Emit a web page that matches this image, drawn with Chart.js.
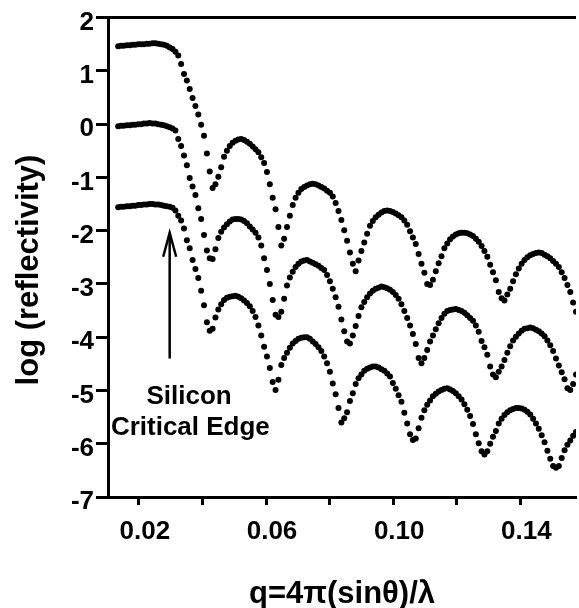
<!DOCTYPE html>
<html>
<head>
<meta charset="utf-8">
<script src="https://cdn.jsdelivr.net/npm/chart.js@4.4.1/dist/chart.umd.min.js"></script>
<style>
  html, body { margin: 0; padding: 0; background: #fff; }
  #wrap { width: 579px; height: 608px; }
</style>
</head>
<body>
<div id="wrap"><canvas id="refl"></canvas></div>
<script>
// q values (1/A) shared by the three curves
const q = [
  0.0135, 0.0144, 0.0153, 0.0162, 0.0171, 0.0180, 0.0189, 0.0198, 0.0207, 0.0216,
  0.0225, 0.0234, 0.0243, 0.0252, 0.0261, 0.0270, 0.0279, 0.0288, 0.0297, 0.0306,
  0.0315, 0.0324, 0.0333, 0.0342, 0.0351, 0.0360, 0.0369, 0.0378, 0.0387, 0.0396,
  0.0405, 0.0414, 0.0423, 0.0432, 0.0441, 0.0450, 0.0459, 0.0468, 0.0477, 0.0486,
  0.0495, 0.0504, 0.0513, 0.0522, 0.0531, 0.0540, 0.0549, 0.0558, 0.0567, 0.0576,
  0.0585, 0.0594, 0.0603, 0.0612, 0.0621, 0.0630, 0.0639, 0.0648, 0.0657, 0.0666,
  0.0675, 0.0684, 0.0693, 0.0702, 0.0711, 0.0720, 0.0729, 0.0738, 0.0747, 0.0756,
  0.0765, 0.0774, 0.0783, 0.0792, 0.0801, 0.0810, 0.0819, 0.0828, 0.0837, 0.0846,
  0.0855, 0.0864, 0.0873, 0.0882, 0.0891, 0.0900, 0.0909, 0.0918, 0.0927, 0.0936,
  0.0945, 0.0954, 0.0963, 0.0972, 0.0981, 0.0990, 0.0999, 0.1008, 0.1017, 0.1026,
  0.1035, 0.1044, 0.1053, 0.1062, 0.1071, 0.1080, 0.1089, 0.1098, 0.1107, 0.1116,
  0.1125, 0.1134, 0.1143, 0.1152, 0.1161, 0.1170, 0.1179, 0.1188, 0.1197, 0.1206,
  0.1215, 0.1224, 0.1233, 0.1242, 0.1251, 0.1260, 0.1269, 0.1278, 0.1287, 0.1296,
  0.1305, 0.1314, 0.1323, 0.1332, 0.1341, 0.1350, 0.1359, 0.1368, 0.1377, 0.1386,
  0.1395, 0.1404, 0.1413, 0.1422, 0.1431, 0.1440, 0.1449, 0.1458, 0.1467, 0.1476,
  0.1485, 0.1494, 0.1503, 0.1512, 0.1521, 0.1530, 0.1539, 0.1548, 0.1557, 0.1566,
  0.1575
];

// log reflectivity, top curve (offset +1.5)
const topCurve = [
  1.46, 1.47, 1.47, 1.48, 1.48, 1.49, 1.49, 1.50, 1.50, 1.50,
  1.51, 1.51, 1.52, 1.52, 1.51, 1.50, 1.49, 1.47, 1.44, 1.41,
  1.36, 1.29, 1.13, 0.94, 0.82, 0.66, 0.49, 0.34, 0.18, -0.01,
  -0.22, -0.55, -0.89, -1.20, -1.13, -0.99, -0.81, -0.61, -0.50, -0.41,
  -0.35, -0.31, -0.29, -0.28, -0.30, -0.33, -0.37, -0.42, -0.47, -0.53,
  -0.62, -0.73, -0.90, -1.13, -1.38, -1.60, -1.93, -2.28, -2.15, -1.93,
  -1.72, -1.52, -1.38, -1.29, -1.22, -1.18, -1.15, -1.13, -1.12, -1.13,
  -1.15, -1.18, -1.21, -1.25, -1.29, -1.36, -1.48, -1.63, -1.80, -1.99,
  -2.19, -2.41, -2.62, -2.76, -2.56, -2.38, -2.22, -2.06, -1.91, -1.82,
  -1.75, -1.70, -1.66, -1.63, -1.62, -1.63, -1.65, -1.68, -1.71, -1.75,
  -1.81, -1.89, -2.01, -2.13, -2.25, -2.44, -2.62, -2.79, -3.00, -3.02,
  -2.92, -2.76, -2.61, -2.48, -2.33, -2.24, -2.16, -2.11, -2.07, -2.05,
  -2.04, -2.04, -2.05, -2.07, -2.10, -2.15, -2.21, -2.29, -2.38, -2.49,
  -2.64, -2.78, -2.93, -3.15, -3.27, -3.31, -3.20, -3.09, -2.95, -2.82,
  -2.71, -2.62, -2.55, -2.50, -2.46, -2.44, -2.42, -2.41, -2.42, -2.45,
  -2.48, -2.52, -2.57, -2.62, -2.68, -2.78, -2.89, -3.02, -3.15, -3.35,
  -3.52
];

// middle curve
const midCurve = [
  -0.04, -0.03, -0.03, -0.02, -0.02, -0.01, -0.01, 0.00, 0.00, 0.01,
  0.01, 0.02, 0.01, 0.01, 0.00, -0.01, -0.02, -0.04, -0.06, -0.08,
  -0.12, -0.28, -0.41, -0.59, -0.77, -1.01, -1.17, -1.33, -1.58, -1.78,
  -2.08, -2.37, -2.52, -2.53, -2.35, -2.14, -2.02, -1.94, -1.88, -1.83,
  -1.79, -1.78, -1.78, -1.79, -1.82, -1.86, -1.92, -1.98, -2.04, -2.13,
  -2.28, -2.52, -2.74, -3.00, -3.30, -3.58, -3.62, -3.52, -3.28, -3.03,
  -2.88, -2.77, -2.68, -2.62, -2.58, -2.56, -2.55, -2.58, -2.60, -2.63,
  -2.66, -2.70, -2.74, -2.83, -2.95, -3.09, -3.25, -3.43, -3.67, -3.89,
  -4.08, -4.12, -3.97, -3.79, -3.60, -3.44, -3.34, -3.25, -3.18, -3.13,
  -3.09, -3.07, -3.05, -3.06, -3.08, -3.11, -3.15, -3.21, -3.28, -3.38,
  -3.51, -3.64, -3.78, -3.94, -4.13, -4.39, -4.49, -4.39, -4.24, -4.08,
  -3.97, -3.85, -3.74, -3.64, -3.56, -3.51, -3.49, -3.48, -3.47, -3.49,
  -3.51, -3.54, -3.59, -3.64, -3.69, -3.78, -3.90, -4.07, -4.19, -4.33,
  -4.55, -4.70, -4.75, -4.65, -4.55, -4.43, -4.29, -4.17, -4.06, -3.99,
  -3.93, -3.88, -3.84, -3.83, -3.82, -3.83, -3.86, -3.89, -3.93, -3.98,
  -4.06, -4.15, -4.26, -4.40, -4.53, -4.66, -4.79, -4.96, -4.99, -4.88,
  -4.70
];

// bottom curve (offset -1.5)
const lowCurve = [
  -1.56, -1.55, -1.55, -1.54, -1.54, -1.53, -1.53, -1.52, -1.52, -1.51,
  -1.51, -1.50, -1.50, -1.51, -1.51, -1.52, -1.53, -1.54, -1.55, -1.57,
  -1.62, -1.72, -1.81, -1.96, -2.18, -2.33, -2.55, -2.72, -2.89, -3.13,
  -3.40, -3.72, -3.88, -3.84, -3.63, -3.48, -3.38, -3.30, -3.26, -3.24,
  -3.23, -3.22, -3.24, -3.27, -3.31, -3.36, -3.42, -3.51, -3.62, -3.78,
  -3.97, -4.18, -4.36, -4.58, -4.84, -4.99, -4.80, -4.52, -4.39, -4.29,
  -4.20, -4.12, -4.07, -4.03, -4.01, -4.00, -4.00, -4.03, -4.08, -4.13,
  -4.19, -4.26, -4.36, -4.49, -4.65, -4.87, -5.07, -5.33, -5.60, -5.52,
  -5.41, -5.20, -5.05, -4.88, -4.77, -4.70, -4.63, -4.59, -4.57, -4.55,
  -4.55, -4.57, -4.60, -4.63, -4.68, -4.74, -4.86, -4.97, -5.09, -5.21,
  -5.42, -5.62, -5.82, -5.93, -5.90, -5.71, -5.51, -5.37, -5.27, -5.19,
  -5.11, -5.06, -5.02, -4.99, -4.97, -4.96, -4.98, -5.01, -5.05, -5.11,
  -5.17, -5.26, -5.36, -5.48, -5.63, -5.82, -5.99, -6.14, -6.20, -6.14,
  -6.00, -5.87, -5.76, -5.62, -5.53, -5.46, -5.41, -5.37, -5.35, -5.33,
  -5.33, -5.34, -5.36, -5.40, -5.45, -5.53, -5.62, -5.72, -5.84, -5.97,
  -6.13, -6.28, -6.42, -6.45, -6.42, -6.27, -6.12, -6.02, -5.94, -5.85,
  -5.78
];

const xTicks = [0.02, 0.04, 0.06, 0.08, 0.10, 0.12, 0.14];
const xTickLabels = ['0.02', '', '0.06', '', '0.10', '', '0.14'];
const yTicks = [2, 1, 0, -1, -2, -3, -4, -5, -6, -7];
const noteLines = ['Silicon', 'Critical Edge'];

const FONT = '"Liberation Sans", Arial, Helvetica, sans-serif';

function toPoints(vals) {
  return vals.map((v, i) => ({ x: q[i], y: v }));
}

// frame top line, arrow, note text and the rotated y title
const extras = {
  id: 'extras',
  afterDraw(chart) {
    const { ctx, chartArea: a, scales: { x, y } } = chart;
    ctx.save();
    ctx.strokeStyle = '#000';
    ctx.fillStyle = '#000';

    ctx.lineWidth = 3;
    ctx.beginPath();
    ctx.moveTo(a.left - 1.5, a.top);
    ctx.lineTo(a.right, a.top);
    ctx.stroke();

    const ax = x.getPixelForValue(0.0297);
    const yTip = y.getPixelForValue(-2.04);
    const yEnd = y.getPixelForValue(-4.40);
    ctx.lineWidth = 2.5;
    ctx.beginPath();
    ctx.moveTo(ax, yEnd);
    ctx.lineTo(ax, yTip);
    ctx.stroke();
    ctx.beginPath();
    ctx.moveTo(ax - 6.5, yTip + 24);
    ctx.lineTo(ax, yTip);
    ctx.lineTo(ax + 6.5, yTip + 24);
    ctx.stroke();

    ctx.font = 'bold 26px ' + FONT;
    ctx.textAlign = 'center';
    ctx.textBaseline = 'alphabetic';
    ctx.fillText(noteLines[0], x.getPixelForValue(0.0358), y.getPixelForValue(-5.26));
    ctx.fillText(noteLines[1], x.getPixelForValue(0.0362), y.getPixelForValue(-5.84));

    ctx.translate(37.5, 270);
    ctx.rotate(-Math.PI / 2);
    ctx.font = 'bold 31px ' + FONT;
    ctx.fillText('log (reflectivity)', 0, 0);
    ctx.restore();
  }
};

const dot = { showLine: false, pointRadius: 3, pointHoverRadius: 3, pointBorderWidth: 0,
              pointBackgroundColor: '#000', borderColor: '#000' };

new Chart(document.getElementById('refl'), {
  type: 'scatter',
  data: {
    datasets: [
      Object.assign({ label: 'top', data: toPoints(topCurve) }, dot),
      Object.assign({ label: 'middle', data: toPoints(midCurve) }, dot),
      Object.assign({ label: 'bottom', data: toPoints(lowCurve) }, dot)
    ]
  },
  options: {
    responsive: true,
    maintainAspectRatio: false,
    animation: false,
    devicePixelRatio: 1,
    layout: { padding: { top: 16, left: 0, right: 0, bottom: 0 } },
    plugins: { legend: { display: false }, tooltip: { enabled: false } },
    scales: {
      x: {
        type: 'linear',
        min: 0.0103,
        max: 0.1575,
        afterFit: s => { s.height = 111; },
        afterBuildTicks: s => { s.ticks = xTicks.map(v => ({ value: v })); },
        border: { display: true, color: '#000', width: 3 },
        grid: { drawOnChartArea: false, drawTicks: true, tickLength: 8, tickWidth: 3, color: '#000' },
        ticks: {
          color: '#000',
          font: { family: FONT, size: 26, weight: 'bold' },
          padding: 11,
          labelOffset: 6,
          maxRotation: 0,
          autoSkip: false,
          callback: (v, i) => xTickLabels[i]
        },
        title: {
          display: true,
          text: 'q=4π(sinθ)/λ',
          color: '#000',
          font: { family: FONT, size: 31, weight: 'bold', lineHeight: 0.9 },
          padding: 0
        }
      },
      y: {
        type: 'linear',
        min: -7,
        max: 2,
        afterFit: s => { s.width = 108; },
        afterBuildTicks: s => { s.ticks = yTicks.map(v => ({ value: v })); },
        border: { display: true, color: '#000', width: 3 },
        grid: { drawOnChartArea: false, drawTicks: true, tickLength: 12, tickWidth: 3, color: '#000' },
        ticks: {
          color: '#000',
          font: { family: FONT, size: 26, weight: 'bold' },
          padding: 2,
          labelOffset: 5,
          autoSkip: false,
          callback: v => String(v)
        }
      }
    }
  },
  plugins: [extras]
});
</script>
</body>
</html>
